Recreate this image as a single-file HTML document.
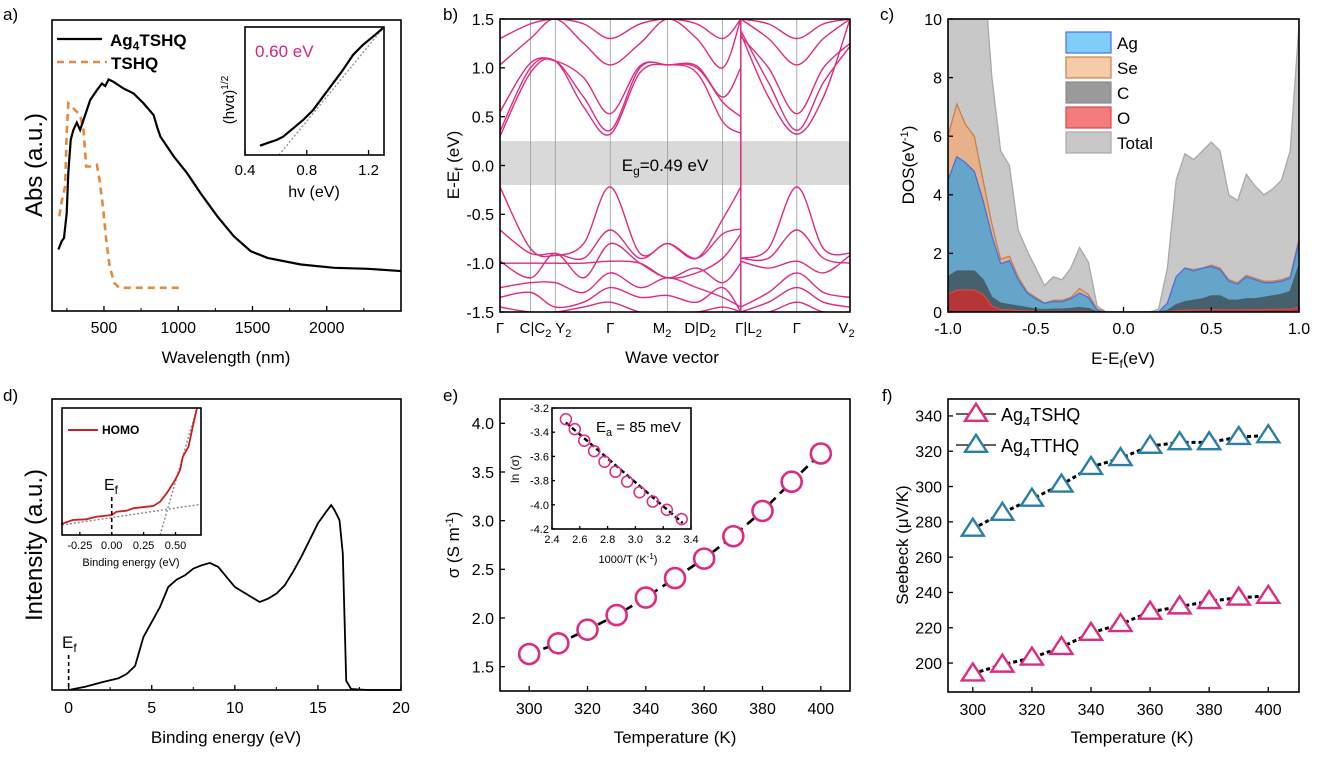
<!DOCTYPE html>
<html><head><meta charset="utf-8"><style>
html,body{margin:0;padding:0;background:#fff;}
svg{display:block;font-family:"Liberation Sans",Arial,sans-serif;}
</style></head><body>
<svg id="fig" width="1319" height="761" viewBox="0 0 1319 761"></svg>
<script>
// ---------- DATA ----------
// Panel a
const aWl = [193,215,231,249,260,276,294,317,339,362,407,452,486,508,531,564,632,699,767,834,857,880,970,1060,1150,1263,1375,1488,1601,1826,2051,2277,2502];
const aAbs = [61.7,70,73.3,98.3,138.3,171.7,181.7,189,181.7,191.7,211.7,221.7,228.3,225.7,232.3,230,223.3,218.3,208.3,196.7,185,175,155,138.3,118.3,95,75,60,53.3,46.7,43.3,42.3,40];
const aTsWl = [199,215,238,249,260,283,305,339,362,380,407,452,470,493,515,538,569,603,1008];
const aTsAbs = [95,110,125,178.3,208.3,205,201.7,196.7,181.7,145,145,146.7,131.7,105,71.7,45,28.3,23.3,23.3];
const aInHv = [0.497,0.54,0.604,0.647,0.712,0.776,0.841,0.905,0.97,1.034,1.099,1.163,1.228,1.292];
const aInY = [9.3,11.7,15,18.3,26.7,35,45,58.3,71.7,85,100,110,118.3,126.7];
const aXTicks = [500,1000,1500,2000];
const aInXTicks = [0.4,0.8,1.2];
// Panel b (k position in 0..1 across, energies in eV)
const bKA = [0,0.087,0.158,0.239,0.315,0.4,0.479,0.562,0.636,0.688];
const bKB = [0.688,0.767,0.848,0.924,1.0];
const bBandsA = [
 [0.30,0.95,1.07,0.6,0.32,0.95,1.03,0.95,0.45,0.33],
 [0.35,1.0,1.07,0.7,0.36,1.0,1.03,1.0,0.65,0.50],
 [0.55,1.05,1.07,0.9,0.53,1.02,1.03,1.02,0.7,1.0],
 [1.03,1.3,1.5,1.25,1.03,1.25,1.5,1.3,1.0,1.5],
 [1.3,1.45,1.5,1.45,1.3,1.45,1.5,1.45,1.3,1.5],
 [-0.22,-0.85,-0.92,-0.8,-0.22,-0.9,-0.8,-0.95,-0.55,-0.22],
 [-0.66,-0.9,-0.9,-0.95,-0.66,-0.95,-0.8,-0.95,-0.7,-0.65],
 [-0.98,-1.15,-0.9,-1.15,-0.8,-1.0,-1.15,-1.1,-0.95,-0.7],
 [-1.0,-1.0,-1.0,-1.0,-0.98,-1.0,-1.15,-1.05,-1.2,-1.0],
 [-1.25,-1.2,-1.2,-1.3,-1.1,-1.25,-1.15,-1.25,-1.35,-1.45],
 [-1.35,-1.3,-1.45,-1.4,-1.25,-1.35,-1.33,-1.4,-1.25,-1.5],
 [-1.45,-1.5,-1.5,-1.45,-1.4,-1.5,-1.5,-1.5,-1.45,-1.5]
];
const bBandsB = [
 [1.35,0.7,0.32,0.7,1.5],
 [1.38,0.85,0.36,0.85,1.22],
 [1.32,1.0,0.53,1.0,1.25],
 [1.5,1.3,1.03,1.3,1.5],
 [1.5,1.45,1.3,1.45,1.5],
 [-0.95,-0.85,-0.22,-0.85,-0.9],
 [-0.95,-0.95,-0.66,-0.95,-1.0],
 [-0.98,-1.05,-0.98,-1.1,-0.92],
 [-1.45,-1.3,-1.1,-1.3,-1.35],
 [-1.5,-1.4,-1.25,-1.4,-1.45],
 [-1.5,-1.5,-1.4,-1.5,-1.5]
];
const bKLines = [0.087,0.158,0.315,0.479,0.636,0.688,0.848];
const bKLabels = ["Γ","C|C<tspan font-size='11' dy='4'>2</tspan><tspan dy='-4'> </tspan>Y<tspan font-size='11' dy='4'>2</tspan>","Γ","M<tspan font-size='11' dy='4'>2</tspan>","D|D<tspan font-size='11' dy='4'>2</tspan>","Γ|L<tspan font-size='11' dy='4'>2</tspan>","Γ","V<tspan font-size='11' dy='4'>2</tspan>"];
const bKLabelPos = [0.0,0.13,0.315,0.463,0.572,0.71,0.848,0.99];
const bYTicks = [-1.5,-1.0,-0.5,0.0,0.5,1.0,1.5];
const bGap = [-0.2,0.25];
// Panel c
const cE = [-1.00,-0.95,-0.90,-0.85,-0.80,-0.75,-0.70,-0.65,-0.60,-0.55,-0.50,-0.45,-0.40,-0.35,-0.30,-0.25,-0.20,-0.15,-0.10,-0.05,0,0.05,0.10,0.15,0.20,0.25,0.30,0.35,0.40,0.45,0.50,0.55,0.60,0.65,0.70,0.75,0.80,0.85,0.90,0.95,1.00];
const cTotal = [12,12,12,12,12,8,5.5,5.0,2.8,2.1,1.5,0.9,1.2,1.1,1.5,2.2,1.7,0.2,0,0,0,0,0,0,0.1,1.5,4.5,5.4,5.2,5.5,5.8,5.5,4.0,3.8,4.7,4.3,4.0,4.2,4.5,5.5,9.8];
const cSe = [6.0,7.1,6.4,6.0,4.5,3.0,1.8,1.9,1.2,0.7,0.5,0.3,0.4,0.4,0.5,0.8,0.6,0.1,0,0,0,0,0,0,0,0.3,1.2,1.5,1.45,1.5,1.6,1.5,1.1,1.0,1.25,1.15,1.05,1.05,1.1,1.2,2.5];
const cAg = [4.5,5.3,5.1,4.8,3.8,2.6,1.65,1.75,1.1,0.65,0.45,0.3,0.35,0.35,0.45,0.65,0.5,0.05,0,0,0,0,0,0,0,0.3,1.2,1.5,1.4,1.5,1.55,1.45,1.05,0.95,1.2,1.1,1.0,1.0,1.05,1.15,2.4];
const cC = [1.2,1.4,1.4,1.4,1.1,0.5,0.3,0.25,0.2,0.15,0.1,0.08,0.1,0.1,0.12,0.15,0.12,0,0,0,0,0,0,0,0,0.05,0.25,0.35,0.4,0.45,0.55,0.55,0.4,0.4,0.45,0.45,0.5,0.55,0.6,0.7,1.6];
const cO = [0.6,0.75,0.75,0.75,0.6,0.2,0.08,0.07,0.05,0.04,0.03,0.02,0.02,0.02,0.02,0.03,0.02,0,0,0,0,0,0,0,0,0.02,0.05,0.06,0.06,0.07,0.08,0.08,0.07,0.07,0.08,0.08,0.08,0.09,0.1,0.1,0.15];
const cXTicks = [-1.0,-0.5,0.0,0.5,1.0];
const cYTicks = [0,2,4,6,8,10];
// Panel d
const dE = [0,1,2,3,3.5,4,4.5,5,5.5,6,6.5,7,7.5,8,8.5,9,9.5,10,10.5,11,11.5,12,12.5,13,13.5,14,14.5,15,15.5,15.8,16,16.3,16.5,16.7,17,18,20];
const dI = [0,3.3,7.7,11.7,16,24,52.7,67.7,82.7,102.7,110,114.3,121,124.3,126.7,122.7,112.7,102.7,97.7,92.7,87.7,91,96,104.3,117.7,132.7,149.3,166,177.7,184.3,179.3,169.3,136,9.3,1,0,0];
const dInE = [-0.397,-0.305,-0.2,-0.121,0,0.037,0.116,0.168,0.274,0.326,0.379,0.431,0.497,0.536,0.557,0.602,0.641,0.668];
const dInI = [11,15,15.7,18.3,20,23.3,24.3,26.7,28.3,29,33.3,41.7,55,65,78.3,88.3,111.7,126.7];
const dXTicks = [0,5,10,15,20];
const dInXTicks = [-0.25,0.00,0.25,0.50];
// Panel e
const eT = [300,310,320,330,340,350,360,370,380,390,400];
const eSigma = [1.63,1.74,1.88,2.03,2.21,2.41,2.61,2.84,3.10,3.40,3.69];
const eInX = [3.333,3.226,3.125,3.03,2.941,2.857,2.778,2.703,2.632,2.564,2.5];
const eInLn = [-4.118,-4.041,-3.973,-3.896,-3.808,-3.726,-3.644,-3.556,-3.47,-3.375,-3.293];
const eXTicks = [300,320,340,360,380,400];
const eYTicks = [1.5,2.0,2.5,3.0,3.5,4.0];
const eInXTicks = [2.4,2.6,2.8,3.0,3.2,3.4];
const eInYTicks = [-4.2,-4.0,-3.8,-3.6,-3.4,-3.2];
// Panel f
const fT = [300,310,320,330,340,350,360,370,380,390,400];
const fTSHQ = [194,199,203,209,217,222,229,232,235,237,238];
const fTTHQ = [276,285,293,301,311,316,323,325,325,328,329];
const fXTicks = [300,320,340,360,380,400];
const fYTicks = [200,220,240,260,280,300,320,340];

// ---------- HELPERS ----------
const NS='http://www.w3.org/2000/svg';
const svg=document.getElementById('fig');
function mk(tag, attrs, parent, name){
  const n=document.createElementNS(NS,tag);
  for(const k in attrs) n.setAttribute(k,attrs[k]);
  
  
  (parent||svg).appendChild(n);
  return n;
}
function txt(x,y,html,size,anchor,name,extra,parent){
  const a=Object.assign({x:x,y:y,'font-size':size,'text-anchor':anchor||'middle',fill:'#000'},extra||{});
  const t=mk('text',a,parent,name);
  t.innerHTML=html;
  return t;
}
function lin(d0,d1,r0,r1){return v=>r0+(v-d0)/(d1-d0)*(r1-r0);}
function frame(x0,y0,x1,y1,name){
  mk('rect',{x:x0,y:y0,width:x1-x0,height:y1-y0,fill:'none',stroke:'#000','stroke-width':1.6},null,name);
}
function xticks(sx,y1,vals,fmt,size,off,name,len){
  vals.forEach(v=>{
    mk('line',{x1:sx(v),x2:sx(v),y1:y1,y2:y1-(len||5),stroke:'#000','stroke-width':1.3},null,name+'-tick');
    txt(sx(v),y1+off,fmt(v),size,'middle',name+'-label');
  });
}
function yticks(sy,x0,vals,fmt,size,off,name,len){
  vals.forEach(v=>{
    mk('line',{x1:x0,x2:x0+(len||5),y1:sy(v),y2:sy(v),stroke:'#000','stroke-width':1.3},null,name+'-tick');
    txt(x0-off,sy(v)+size*0.36,fmt(v),size,'end',name+'-label');
  });
}
function poly(xs,ys,sx,sy){return xs.map((x,i)=>(i?'L':'M')+sx(x).toFixed(1)+','+sy(ys[i]).toFixed(1)).join('');}
function smooth(xs,ys,sx,sy){
  const P=xs.map((x,i)=>[sx(x),sy(ys[i])]);
  let d='M'+P[0][0]+','+P[0][1];
  for(let i=0;i<P.length-1;i++){
    const p0=P[Math.max(0,i-1)],p1=P[i],p2=P[i+1],p3=P[Math.min(P.length-1,i+2)];
    const c1=[p1[0]+(p2[0]-p0[0])/6,p1[1]+(p2[1]-p0[1])/6];
    const c2=[p2[0]-(p3[0]-p1[0])/6,p2[1]-(p3[1]-p1[1])/6];
    d+='C'+c1[0].toFixed(1)+','+c1[1].toFixed(1)+' '+c2[0].toFixed(1)+','+c2[1].toFixed(1)+' '+p2[0].toFixed(1)+','+p2[1].toFixed(1);
  }
  return d;
}
function clip(id,x0,y0,x1,y1){
  const c=mk('clipPath',{id:id},null,id);
  mk('rect',{x:x0,y:y0,width:x1-x0,height:y1-y0},c,id+'-rect');
}
const MAG='#de2a80', BLU='#2b7fa6';

// ---------- PANEL LABELS ----------
[['a)',3,20],['b)',443,20],['c)',880,20],['d)',3,401],['e)',443,401],['f)',882,401]].forEach(p=>txt(p[1],p[2],p[0],17,'start','panel-label-'+p[0][0]));

// ---------- PANEL A ----------
{
 const X0=52,X1=401,Y0=20,Y1=311;
 const sx=lin(150,2500,X0,X1), sy=lin(0,292,Y1,Y0);
 clip('clipA',X0,Y0,X1,Y1);
 mk('path',{d:poly(aTsWl,aTsAbs,sx,sy),fill:'none',stroke:'#e38a3c','stroke-width':2.6,'stroke-dasharray':'7,5','clip-path':'url(#clipA)'},null,'tshq-curve');
 mk('path',{d:poly(aWl,aAbs,sx,sy),fill:'none',stroke:'#000','stroke-width':2.2,'clip-path':'url(#clipA)'},null,'ag4tshq-curve');
 frame(X0,Y0,X1,Y1,'panel-a-frame');
 xticks(sx,Y1,aXTicks,v=>v,16,22,'panel-a-x');
 [250,750,1250,1750,2250].forEach(v=>mk('line',{x1:sx(v),x2:sx(v),y1:Y1,y2:Y1-3,stroke:'#000'},null,'panel-a-minor-tick'));
 txt(226,363,'Wavelength (nm)',17,'middle','panel-a-x-title');
 txt(0,0,'Abs (a.u.)',24,'middle','panel-a-y-title',{transform:'translate(42,165) rotate(-90)'});
 mk('line',{x1:57,x2:102,y1:39,y2:39,stroke:'#000','stroke-width':2.2},null,'legend-ag4tshq-line');
 txt(110,46,'Ag<tspan font-size="12" dy="4">4</tspan><tspan dy="-4">TSHQ</tspan>',17,'start','legend-ag4tshq-label',{'font-weight':'bold'});
 mk('line',{x1:57,x2:107,y1:62,y2:62,stroke:'#e38a3c','stroke-width':2.6,'stroke-dasharray':'7,5'},null,'legend-tshq-line');
 txt(111,69,'TSHQ',17,'start','legend-tshq-label',{'font-weight':'bold'});
 // inset
 const IX0=245,IX1=384,IY0=27,IY1=155;
 const ix=lin(0.4,1.3,IX0,IX1), iy=lin(0,128,IY1,IY0);
 mk('rect',{x:IX0,y:IY0,width:IX1-IX0,height:IY1-IY0,fill:'#fff',stroke:'none'},null,'inset-a-bg');
 mk('line',{x1:ix(0.62),y1:iy(0),x2:ix(1.3),y2:iy(128),stroke:'#999','stroke-width':1.5,'stroke-dasharray':'2,2'},null,'inset-a-fit-line');
 mk('path',{d:poly(aInHv,aInY,ix,iy),fill:'none',stroke:'#000','stroke-width':2.2},null,'inset-a-curve');
 frame(IX0,IY0,IX1,IY1,'inset-a-frame');
 xticks(ix,IY1,aInXTicks,v=>v.toFixed(1),15,20,'inset-a-x');
 txt(314,197,'hv (eV)',16,'middle','inset-a-x-title');
 txt(0,0,'(hvα)<tspan font-size="10" dy="-6">1/2</tspan>',15,'middle','inset-a-y-title',{transform:'translate(234,100) rotate(-90)'});
 txt(255,57,'0.60 eV',17,'start','inset-a-gap-label',{fill:'#d6247a'});
}

// ---------- PANEL B ----------
{
 const X0=500,X1=850,Y0=19,Y1=312;
 const sx=lin(0,1,X0,X1), sy=lin(-1.5,1.5,Y1,Y0);
 clip('clipB',X0,Y0,X1,Y1);
 mk('rect',{x:X0,y:sy(bGap[1]),width:X1-X0,height:sy(bGap[0])-sy(bGap[1]),fill:'#d9d9d9'},null,'band-gap-region');
 bKLines.forEach((k,i)=>mk('line',{x1:sx(k),x2:sx(k),y1:Y0,y2:Y1,stroke:i==5?MAG:'#999','stroke-width':i==5?1.5:0.8},null,'k-point-line'));
 const g=mk('g',{'clip-path':'url(#clipB)'},null,'bands');
 bBandsA.forEach(b=>mk('path',{d:smooth(bKA,b,sx,sy),fill:'none',stroke:MAG,'stroke-width':1.4},g,'band-left'));
 bBandsB.forEach(b=>mk('path',{d:smooth(bKB,b,sx,sy),fill:'none',stroke:MAG,'stroke-width':1.4},g,'band-right'));
 frame(X0,Y0,X1,Y1,'panel-b-frame');
 yticks(sy,X0,bYTicks,v=>v.toFixed(1),16,6,'panel-b-y');
 txt(665,171,'E<tspan font-size="12" dy="4">g</tspan><tspan dy="-4">=0.49 eV</tspan>',17,'middle','gap-label');
 bKLabels.forEach((l,i)=>txt(sx(bKLabelPos[i]),333,l,15,'middle','k-label'));
 txt(672,363,'Wave vector',17,'middle','panel-b-x-title');
 txt(0,0,'E-E<tspan font-size="12" dy="4">f</tspan><tspan dy="-4"> (eV)</tspan>',17,'middle','panel-b-y-title',{transform:'translate(459,165) rotate(-90)'});
}

// ---------- PANEL C ----------
{
 const X0=948,X1=1299,Y0=19,Y1=312;
 const sx=lin(-1,1,X0,X1), sy=lin(0,10,Y1,Y0);
 clip('clipC',X0,Y0,X1,Y1);
 const g=mk('g',{'clip-path':'url(#clipC)'},null,'dos-areas');
 function area(vals,fill,stroke,name){
   const d=poly(cE,vals,sx,sy)+'L'+sx(1)+','+sy(0)+'L'+sx(-1)+','+sy(0)+'Z';
   mk('path',{d:d,fill:fill,stroke:stroke,'stroke-width':1.3},g,name);
 }
 area(cTotal,'#c8c8c8','#a8a8a8','dos-total');
 area(cSe,'#e8b189','#c98149','dos-se');
 area(cAg,'#64a5c9','#4d6fe0','dos-ag');
 area(cC,'#44616d','#44616d','dos-c');
 area(cO,'#b53538','#d84848','dos-o');
 frame(X0,Y0,X1,Y1,'panel-c-frame');
 yticks(sy,X0,cYTicks,v=>v,16,6,'panel-c-y');
 xticks(sx,Y1,cXTicks,v=>v.toFixed(1),16,22,'panel-c-x');
 txt(1123,364,'E-E<tspan font-size="12" dy="4">f</tspan><tspan dy="-4">(eV)</tspan>',17,'middle','panel-c-x-title');
 txt(0,0,'DOS(eV<tspan font-size="11" dy="-6">-1</tspan><tspan dy="6">)</tspan>',17,'middle','panel-c-y-title',{transform:'translate(914,165) rotate(-90)'});
 const leg=[['Ag','#7fcdf8','#4d6fe0'],['Se','#f6cba8','#c98149'],['C','#9a9a9a','#8a8a8a'],['O','#f57c7c','#d84848'],['Total','#c8c8c8','#a8a8a8']];
 leg.forEach((l,i)=>{
   mk('rect',{x:1066,y:32+i*25,width:45,height:21,fill:l[1],stroke:l[2],'stroke-width':1.2},null,'legend-'+l[0].toLowerCase()+'-swatch');
   txt(1117,49+i*25,l[0],17,'start','legend-'+l[0].toLowerCase()+'-label');
 });
}

// ---------- PANEL D ----------
{
 const X0=52,X1=401,Y0=399,Y1=690;
 const sx=lin(-1,20,X0,X1), sy=lin(0,290,Y1,Y0);
 mk('path',{d:poly(dE,dI,sx,sy),fill:'none',stroke:'#000','stroke-width':1.8},null,'ups-curve');
 frame(X0,Y0,X1,Y1,'panel-d-frame');
 xticks(sx,Y1,dXTicks,v=>v,16,23,'panel-d-x');
 [2.5,7.5,12.5,17.5].forEach(v=>mk('line',{x1:sx(v),x2:sx(v),y1:Y1,y2:Y1-3,stroke:'#000'},null,'panel-d-minor-tick'));
 txt(226,743,'Binding energy (eV)',17,'middle','panel-d-x-title');
 txt(0,0,'Intensity (a.u.)',24,'middle','panel-d-y-title',{transform:'translate(42,545) rotate(-90)'});
 mk('line',{x1:sx(0),x2:sx(0),y1:655,y2:690,stroke:'#000','stroke-width':1.6,'stroke-dasharray':'4,3'},null,'ef-marker-line');
 txt(62,648,'E<tspan font-size="12" dy="4">f</tspan>',17,'start','ef-marker-label');
 // inset
 const IX0=62,IX1=201,IY0=408,IY1=535;
 const ix=lin(-0.39,0.7,IX0,IX1), iy=lin(0,127,IY1,IY0);
 mk('line',{x1:ix(-0.39),y1:iy(10),x2:ix(0.7),y2:iy(30.7),stroke:'#888','stroke-width':1.4,'stroke-dasharray':'2,2'},null,'inset-d-baseline-fit');
 mk('line',{x1:ix(0.379),y1:iy(0),x2:ix(0.668),y2:iy(127),stroke:'#888','stroke-width':1.4,'stroke-dasharray':'2,2'},null,'inset-d-edge-fit');
 mk('path',{d:poly(dInE,dInI,ix,iy),fill:'none',stroke:'#c8201e','stroke-width':1.8},null,'inset-d-homo-curve');
 frame(IX0,IY0,IX1,IY1,'inset-d-frame');
 xticks(ix,IY1,dInXTicks,v=>v.toFixed(2),11,14,'inset-d-x',3);
 txt(131,566,'Binding energy (eV)',11,'middle','inset-d-x-title');
 mk('line',{x1:68,x2:98,y1:430,y2:430,stroke:'#c8201e','stroke-width':2},null,'legend-homo-line');
 txt(102,434,'HOMO',12,'start','legend-homo-label',{'font-weight':'bold'});
 mk('line',{x1:ix(0),x2:ix(0),y1:497,y2:535,stroke:'#000','stroke-width':1.6,'stroke-dasharray':'4,3'},null,'inset-ef-line');
 txt(104,490,'E<tspan font-size="12" dy="4">f</tspan>',16,'start','inset-ef-label');
}

// ---------- PANEL E ----------
{
 const X0=500,X1=850,Y0=399,Y1=691;
 const sx=lin(290,410,X0,X1), sy=lin(1.25,4.25,Y1,Y0);
 mk('path',{d:poly(eT,eSigma,sx,sy),fill:'none',stroke:'#000','stroke-width':2.6,'stroke-dasharray':'9,6'},null,'sigma-line');
 eT.forEach((t,i)=>mk('circle',{cx:sx(t),cy:sy(eSigma[i]),r:10,fill:'#fff',stroke:MAG,'stroke-width':2.6},null,'sigma-point'));
 frame(X0,Y0,X1,Y1,'panel-e-frame');
 xticks(sx,Y1,eXTicks,v=>v,16,23,'panel-e-x');
 yticks(sy,X0,eYTicks,v=>v.toFixed(1),16,6,'panel-e-y');
 txt(675,743,'Temperature (K)',17,'middle','panel-e-x-title');
 txt(0,0,'σ (S m<tspan font-size="11" dy="-6">-1</tspan><tspan dy="6">)</tspan>',17,'middle','panel-e-y-title',{transform:'translate(459,545) rotate(-90)'});
 // inset
 const IX0=552,IX1=691,IY0=408,IY1=529;
 const ix=lin(2.4,3.4,IX0,IX1), iy=lin(-4.2,-3.2,IY1,IY0);
 mk('rect',{x:IX0,y:IY0,width:IX1-IX0,height:IY1-IY0,fill:'#fff'},null,'inset-e-bg');
 mk('line',{x1:ix(2.5),y1:iy(-3.32),x2:ix(3.34),y2:iy(-4.15),stroke:'#000','stroke-width':2.4,'stroke-dasharray':'5,3'},null,'arrhenius-fit');
 eInX.forEach((x,i)=>mk('circle',{cx:ix(x),cy:iy(eInLn[i]),r:5.5,fill:'none',stroke:MAG,'stroke-width':1.5},null,'arrhenius-point'));
 frame(IX0,IY0,IX1,IY1,'inset-e-frame');
 xticks(ix,IY1,eInXTicks,v=>v.toFixed(1),11,14,'inset-e-x',3);
 yticks(iy,IX0,eInYTicks,v=>v.toFixed(1),11,3,'inset-e-y',3);
 txt(628,563,'1000/T (K<tspan font-size="8" dy="-4">-1</tspan><tspan dy="4">)</tspan>',11,'middle','inset-e-x-title');
 txt(0,0,'ln (σ)',12,'middle','inset-e-y-title',{transform:'translate(519,469) rotate(-90)'});
 txt(596,432,'E<tspan font-size="11" dy="4">a</tspan><tspan dy="-4"> = 85 meV</tspan>',15,'start','activation-energy-label');
}

// ---------- PANEL F ----------
{
 const X0=948,X1=1299,Y0=399,Y1=692;
 const sx=lin(291.6,410.4,X0,X1), sy=lin(183.6,349.6,Y1,Y0);
 function tri(cx,cy,col,name){
   const h=17,w=11;
   mk('path',{d:'M'+cx+','+(cy-h*0.6)+'L'+(cx+w)+','+(cy+h*0.4)+'L'+(cx-w)+','+(cy+h*0.4)+'Z',fill:'#fff',stroke:col,'stroke-width':2.4},null,name);
 }
 [[fTSHQ,MAG,'ag4tshq'],[fTTHQ,BLU,'ag4tthq']].forEach(s=>{
   mk('path',{d:poly(fT,s[0],sx,sy),fill:'none',stroke:'#000','stroke-width':3,'stroke-dasharray':'4,3'},null,s[2]+'-line');
   fT.forEach((t,i)=>tri(sx(t),sy(s[0][i]),s[1],s[2]+'-point'));
 });
 frame(X0,Y0,X1,Y1,'panel-f-frame');
 xticks(sx,Y1,fXTicks,v=>v,16,23,'panel-f-x');
 yticks(sy,X0,fYTicks,v=>v,16,6,'panel-f-y');
 txt(1132,743,'Temperature (K)',17,'middle','panel-f-x-title');
 txt(0,0,'Seebeck (μV/K)',17,'middle','panel-f-y-title',{transform:'translate(908,545) rotate(-90)'});
 [[MAG,'TSHQ',414],[BLU,'TTHQ',445]].forEach((l,i)=>{
   mk('line',{x1:956,x2:996,y1:l[2],y2:l[2],stroke:'#000','stroke-width':1.3},null,'legend-line-'+i);
   tri(976,l[2],l[0],'legend-marker-'+i);
   txt(1001,l[2]+7,'Ag<tspan font-size="13" dy="5">4</tspan><tspan dy="-5">'+l[1]+'</tspan>',18,'start','legend-label-'+i);
 });
}
</script>
</body></html>
